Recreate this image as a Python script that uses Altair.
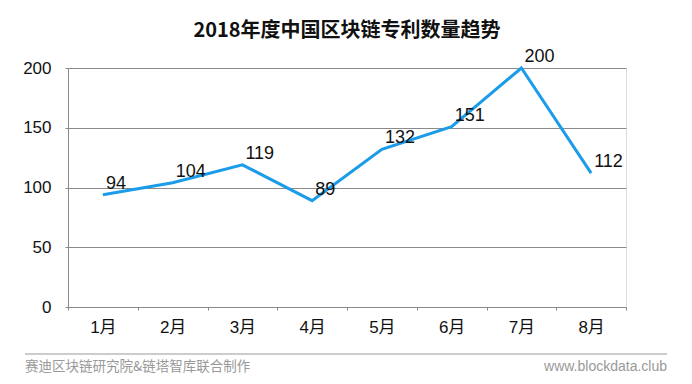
import altair as alt
import pandas as pd

months = ["1月", "2月", "3月", "4月", "5月", "6月", "7月", "8月"]
patents = [94, 104, 119, 89, 132, 151, 200, 112]
y_ticks = [0, 50, 100, 150, 200]
title_text = "2018年度中国区块链专利数量趋势"
footer_left = "赛迪区块链研究院&链塔智库联合制作"
footer_right = "www.blockdata.club"

df = pd.DataFrame({"month": months, "value": patents})

FONT = "Liberation Sans, Arial, Noto Sans CJK SC"
CJK = "Noto Sans CJK SC, Liberation Sans"
BLUE = "#1B9CE8"

x_enc = alt.X("month:N", sort=months, title=None,
              scale=alt.Scale(paddingInner=0, paddingOuter=0),
              axis=alt.Axis(labelAngle=0, labelFontSize=17, labelFont=FONT, labelColor="#111",
                            tickBand="extent", tickSize=3, tickColor="#888", domainColor="#888",
                            labelPadding=9, grid=False))
y_enc = alt.Y("value:Q", title=None,
              scale=alt.Scale(domain=[0, 200], nice=False),
              axis=alt.Axis(values=y_ticks, labelFontSize=17, labelFont=FONT, labelColor="#111",
                            tickSize=3, tickColor="#888", domainColor="#888",
                            gridColor="#8a8a8a", gridWidth=1, labelPadding=14))

line = alt.Chart(df).mark_line(color=BLUE, strokeWidth=3).encode(x=x_enc, y=y_enc)

labels = alt.Chart(df).mark_text(align="left", baseline="alphabetic", dx=3, dy=-6,
                                 fontSize=18, font=FONT, color="#111").encode(
    x=alt.X("month:N", sort=months), y="value:Q", text="value:Q")

foot_df = pd.DataFrame({"l": [footer_left], "r": [footer_right]})
rule = alt.Chart(foot_df).mark_rule(color="#999", strokeWidth=1).encode(
    x=alt.value(-43), x2=alt.value(599), y=alt.value(286))
ftl = alt.Chart(foot_df).mark_text(align="left", baseline="middle", fontSize=13.5,
                                   font=CJK, color="#999999").encode(
    x=alt.value(-43), y=alt.value(299), text="l:N")
ftr = alt.Chart(foot_df).mark_text(align="right", baseline="middle", fontSize=14,
                                   font=FONT, color="#999999").encode(
    x=alt.value(599), y=alt.value(299), text="r:N")

chart = alt.layer(line, labels, rule, ftl, ftr).properties(
    width=558, height=239,
    title=alt.TitleParams(title_text, anchor="middle", fontSize=20, fontWeight="bold",
                          font=CJK, color="#111", offset=7),
    padding={"left": 60, "top": 60, "right": 58, "bottom": 69},
    autosize=alt.AutoSizeParams(type="none"),
).configure_view(stroke=None).configure(background="white")

chart.save("out.html", embed_options={"renderer": "svg", "actions": False})
